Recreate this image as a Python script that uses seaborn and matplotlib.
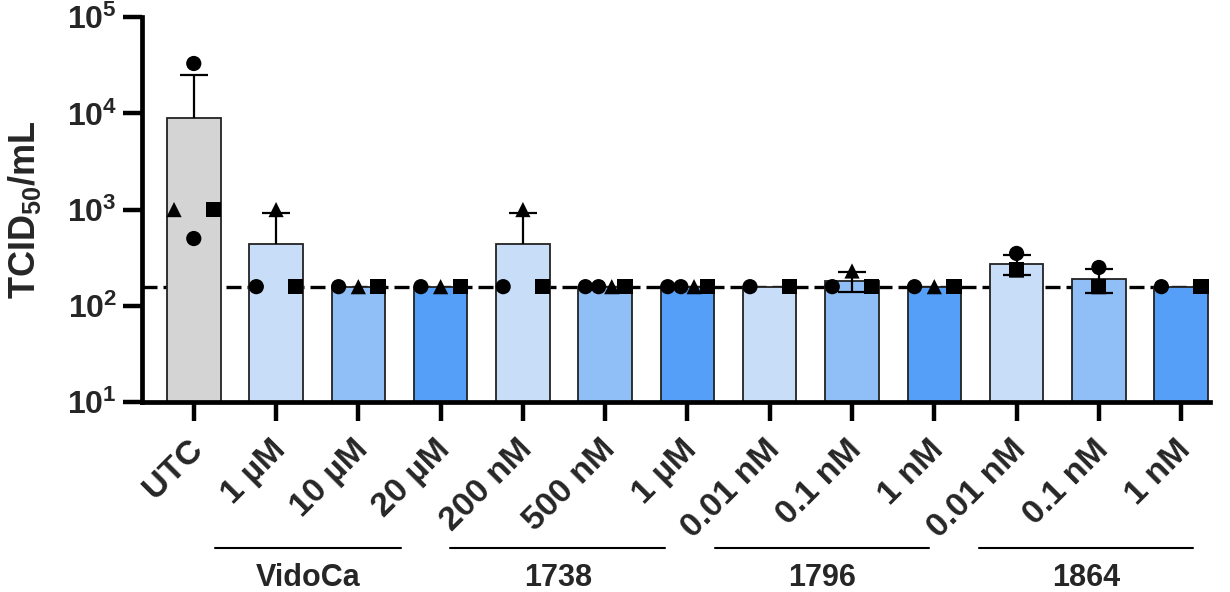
import numpy as np
import pandas as pd
import seaborn as sns
import matplotlib.pyplot as plt
import matplotlib.transforms as mtransforms

# values (TCID50/mL), one entry per bar, NaN = no point
labels = ['UTC', '1 µM', '10 µM', '20 µM', '200 nM', '500 nM', '1 µM',
          '0.01 nM', '0.1 nM', '1 nM', '0.01 nM', '0.1 nM', '1 nM']
circle1 = [33000, 158, 158, 158, 158, 158, 158, 158, 158, 158, 350, 250, 158]
circle2 = [500, np.nan, np.nan, np.nan, np.nan, 158, 158, np.nan, np.nan, np.nan, np.nan, np.nan, np.nan]
triangle = [1000, 1000, 158, 158, 1000, 158, 158, np.nan, 230, 158, 235, 158, np.nan]
square = [1000, 158, 158, 158, 158, 158, 158, 158, 158, 158, 240, 160, 158]
lod = 158

groups = ['VidoCa', '1738', '1796', '1864']
group_spans = [(0.26, 2.52), (3.12, 5.73), (6.33, 8.94), (9.54, 12.14)]

colors = ['#d4d4d4'] + ['#c8ddf7', '#90bef7', '#559ff8'] * 4

sns.set_style('ticks')
plt.rcParams['font.family'] = ['Liberation Sans', 'DejaVu Sans']
plt.rcParams['font.weight'] = 'bold'
plt.rcParams['mathtext.fontset'] = 'custom'
plt.rcParams['mathtext.rm'] = 'Liberation Sans:bold'
plt.rcParams['mathtext.bf'] = 'Liberation Sans:bold'
plt.rcParams['mathtext.it'] = 'Liberation Sans:bold'
plt.rcParams['mathtext.default'] = 'bf'

# long table of points
rows = []
for rep, vals in [('circle1', circle1), ('circle2', circle2), ('triangle', triangle), ('square', square)]:
    for i, v in enumerate(vals):
        if not np.isnan(v):
            rows.append({'cat': i, 'rep': rep, 'value': v})
pts = pd.DataFrame(rows)

# spread points that share a value across the bar, like the original
pts['x'] = pts['cat'].astype(float)
for (c, v), idx in pts.groupby(['cat', 'value']).groups.items():
    n = len(idx)
    if n > 1:
        pts.loc[idx, 'x'] = c + np.linspace(-0.24, 0.24, n)

summary = pts.groupby('cat')['value'].agg(['mean', 'std']).reset_index()
summary['std'] = summary['std'].fillna(0)
summary['id'] = summary['cat'].astype(str)

fig = plt.figure(figsize=(12.3, 5.92), dpi=100)
ax = fig.add_axes([0.1154, 0.321, 0.9837 - 0.1154, 0.971 - 0.321])

sns.barplot(data=summary, x='id', y='mean', hue='id', palette=colors, legend=False,
            errorbar=None, width=0.65, saturation=1, edgecolor='#222222', linewidth=1.3, ax=ax)

ax.axhline(lod, color='black', lw=2.4, ls=(0, (4.5, 1.8)), zorder=0.5)

xpos = summary['cat'].to_numpy(float)
m = summary['mean'].to_numpy()
sd = summary['std'].to_numpy()
has = sd > 0
both = has & (m - sd > 0)
lo = np.where(both, m - sd, m)
hi = m + sd
ax.vlines(xpos[has], lo[has], hi[has], color='black', lw=1.6, zorder=3)
ax.plot(xpos[has], hi[has], ls='none', marker='_', ms=20, mew=1.6, color='black', zorder=3)
ax.plot(xpos[both], lo[both], ls='none', marker='_', ms=20, mew=1.6, color='black', zorder=3)

sns.scatterplot(data=pts, x='x', y='value', style='rep',
                markers={'circle1': 'o', 'circle2': 'o', 'triangle': '^', 'square': 's'},
                color='black', s=120, linewidth=0, legend=False, zorder=4, ax=ax)

ax.set_yscale('log')
ax.set_ylim(10, 1e5)
ax.set_xlim(-0.63, 12.35)
ax.yaxis.set_minor_locator(plt.NullLocator())
ax.set_xticks(range(len(labels)))
ax.set_xticklabels(labels, rotation=45, ha='right', rotation_mode='anchor')
ax.tick_params(axis='both', length=14, width=3.2, color='black')
ax.tick_params(axis='x', pad=9, labelsize=24.5)
ax.tick_params(axis='y', pad=4, labelsize=23)
shift = mtransforms.ScaledTranslation(-0.06, 0, fig.dpi_scale_trans)
for lab in ax.get_xticklabels():
    lab.set_transform(lab.get_transform() + shift)
for lab in ax.get_xticklabels() + ax.get_yticklabels():
    lab.set_fontweight('bold')

for side in ['top', 'right']:
    ax.spines[side].set_visible(False)
for side in ['left', 'bottom']:
    ax.spines[side].set_linewidth(3.4)
    ax.spines[side].set_color('black')

ax.set_xlabel('')
ax.set_ylabel('TCID$_{50}$/mL', fontsize=26, fontweight='bold')
ax.yaxis.set_label_coords(-0.093, 0.5)

trans = mtransforms.blended_transform_factory(ax.transData, fig.transFigure)
for name, (x0, x1) in zip(groups, group_spans):
    ax.plot([x0, x1], [0.074, 0.074], color='black', lw=1.5, transform=trans, clip_on=False)
    ax.text((x0 + x1) / 2, 0.024, name, transform=trans, ha='center', va='center',
            fontsize=22, fontweight='bold')

fig.savefig('out.png', dpi=100)
